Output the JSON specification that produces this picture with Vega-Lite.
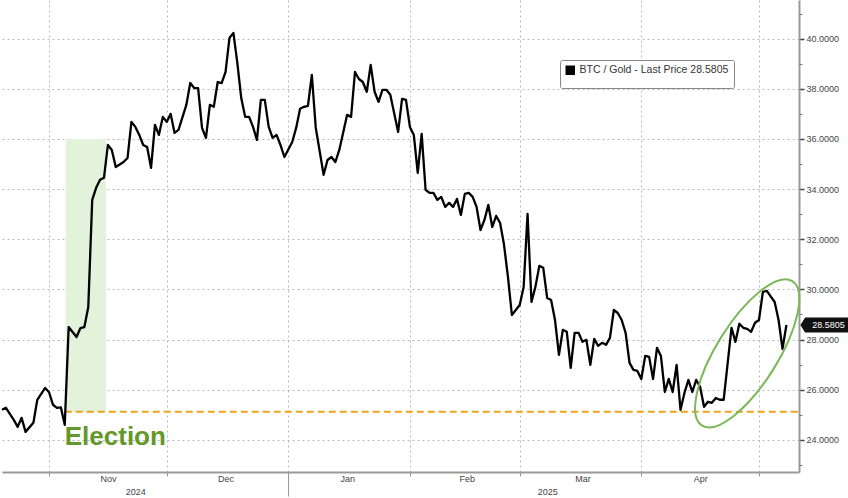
{
  "$schema": "https://vega.github.io/schema/vega-lite/v6.json",
  "width": 797,
  "height": 472,
  "padding": 0,
  "background": "white",
  "view": {"stroke": null},
  "config": {"font": "Liberation Sans"},
  "datasets": {
    "btc": [
      {"date": "2024-10-20T00:00:00", "value": 25.2},
      {"date": "2024-10-21T00:00:00", "value": 25.28},
      {"date": "2024-10-23T00:00:00", "value": 24.8},
      {"date": "2024-10-24T00:00:00", "value": 24.52},
      {"date": "2024-10-25T00:00:00", "value": 24.88},
      {"date": "2024-10-26T00:00:00", "value": 24.32},
      {"date": "2024-10-28T00:00:00", "value": 24.68},
      {"date": "2024-10-29T00:00:00", "value": 25.6},
      {"date": "2024-10-31T00:00:00", "value": 26.07},
      {"date": "2024-11-01T00:00:00", "value": 25.9},
      {"date": "2024-11-02T00:00:00", "value": 25.4},
      {"date": "2024-11-03T00:00:00", "value": 25.28},
      {"date": "2024-11-04T00:00:00", "value": 25.3},
      {"date": "2024-11-05T00:00:00", "value": 24.6},
      {"date": "2024-11-06T00:00:00", "value": 28.5},
      {"date": "2024-11-08T00:00:00", "value": 28.1},
      {"date": "2024-11-09T00:00:00", "value": 28.46},
      {"date": "2024-11-10T00:00:00", "value": 28.5},
      {"date": "2024-11-11T00:00:00", "value": 29.3},
      {"date": "2024-11-12T00:00:00", "value": 33.57},
      {"date": "2024-11-13T00:00:00", "value": 34.05},
      {"date": "2024-11-14T00:00:00", "value": 34.37},
      {"date": "2024-11-15T00:00:00", "value": 34.45},
      {"date": "2024-11-16T00:00:00", "value": 35.76},
      {"date": "2024-11-17T00:00:00", "value": 35.56},
      {"date": "2024-11-18T00:00:00", "value": 34.88},
      {"date": "2024-11-20T00:00:00", "value": 35.08},
      {"date": "2024-11-21T00:00:00", "value": 35.24},
      {"date": "2024-11-22T00:00:00", "value": 36.68},
      {"date": "2024-11-23T00:00:00", "value": 36.48},
      {"date": "2024-11-24T00:00:00", "value": 36.16},
      {"date": "2024-11-25T00:00:00", "value": 35.76},
      {"date": "2024-11-26T00:00:00", "value": 35.68},
      {"date": "2024-11-27T00:00:00", "value": 34.85},
      {"date": "2024-11-28T00:00:00", "value": 36.56},
      {"date": "2024-11-29T00:00:00", "value": 36.16},
      {"date": "2024-11-30T00:00:00", "value": 36.88},
      {"date": "2024-12-01T00:00:00", "value": 36.68},
      {"date": "2024-12-02T00:00:00", "value": 37.0},
      {"date": "2024-12-03T00:00:00", "value": 36.24},
      {"date": "2024-12-04T00:00:00", "value": 36.36},
      {"date": "2024-12-06T00:00:00", "value": 37.36},
      {"date": "2024-12-07T00:00:00", "value": 38.23},
      {"date": "2024-12-08T00:00:00", "value": 38.03},
      {"date": "2024-12-09T00:00:00", "value": 38.03},
      {"date": "2024-12-10T00:00:00", "value": 36.44},
      {"date": "2024-12-11T00:00:00", "value": 36.04},
      {"date": "2024-12-12T00:00:00", "value": 37.36},
      {"date": "2024-12-13T00:00:00", "value": 37.28},
      {"date": "2024-12-14T00:00:00", "value": 38.27},
      {"date": "2024-12-15T00:00:00", "value": 38.23},
      {"date": "2024-12-16T00:00:00", "value": 38.67},
      {"date": "2024-12-17T00:00:00", "value": 40.03},
      {"date": "2024-12-18T00:00:00", "value": 40.23},
      {"date": "2024-12-19T00:00:00", "value": 39.03},
      {"date": "2024-12-20T00:00:00", "value": 37.63},
      {"date": "2024-12-21T00:00:00", "value": 36.88},
      {"date": "2024-12-22T00:00:00", "value": 36.88},
      {"date": "2024-12-23T00:00:00", "value": 36.48},
      {"date": "2024-12-24T00:00:00", "value": 35.96},
      {"date": "2024-12-25T00:00:00", "value": 37.56},
      {"date": "2024-12-26T00:00:00", "value": 37.56},
      {"date": "2024-12-27T00:00:00", "value": 36.48},
      {"date": "2024-12-28T00:00:00", "value": 36.04},
      {"date": "2024-12-29T00:00:00", "value": 36.16},
      {"date": "2024-12-30T00:00:00", "value": 35.76},
      {"date": "2024-12-31T00:00:00", "value": 35.28},
      {"date": "2025-01-02T00:00:00", "value": 35.88},
      {"date": "2025-01-03T00:00:00", "value": 36.44},
      {"date": "2025-01-04T00:00:00", "value": 37.2},
      {"date": "2025-01-05T00:00:00", "value": 37.28},
      {"date": "2025-01-06T00:00:00", "value": 37.32},
      {"date": "2025-01-07T00:00:00", "value": 38.55},
      {"date": "2025-01-08T00:00:00", "value": 36.44},
      {"date": "2025-01-10T00:00:00", "value": 34.57},
      {"date": "2025-01-11T00:00:00", "value": 35.16},
      {"date": "2025-01-12T00:00:00", "value": 35.28},
      {"date": "2025-01-13T00:00:00", "value": 35.08},
      {"date": "2025-01-14T00:00:00", "value": 35.56},
      {"date": "2025-01-16T00:00:00", "value": 36.96},
      {"date": "2025-01-17T00:00:00", "value": 36.88},
      {"date": "2025-01-18T00:00:00", "value": 38.67},
      {"date": "2025-01-19T00:00:00", "value": 38.39},
      {"date": "2025-01-20T00:00:00", "value": 38.27},
      {"date": "2025-01-21T00:00:00", "value": 37.88},
      {"date": "2025-01-22T00:00:00", "value": 38.95},
      {"date": "2025-01-23T00:00:00", "value": 37.88},
      {"date": "2025-01-24T00:00:00", "value": 37.48},
      {"date": "2025-01-25T00:00:00", "value": 37.96},
      {"date": "2025-01-26T00:00:00", "value": 37.96},
      {"date": "2025-01-27T00:00:00", "value": 37.76},
      {"date": "2025-01-29T00:00:00", "value": 36.28},
      {"date": "2025-01-30T00:00:00", "value": 37.6},
      {"date": "2025-01-31T00:00:00", "value": 37.56},
      {"date": "2025-02-01T00:00:00", "value": 36.48},
      {"date": "2025-02-02T00:00:00", "value": 36.16},
      {"date": "2025-02-03T00:00:00", "value": 34.65},
      {"date": "2025-02-04T00:00:00", "value": 36.2},
      {"date": "2025-02-05T00:00:00", "value": 33.97},
      {"date": "2025-02-06T00:00:00", "value": 33.85},
      {"date": "2025-02-07T00:00:00", "value": 33.85},
      {"date": "2025-02-08T00:00:00", "value": 33.57},
      {"date": "2025-02-09T00:00:00", "value": 33.69},
      {"date": "2025-02-10T00:00:00", "value": 33.29},
      {"date": "2025-02-11T00:00:00", "value": 33.45},
      {"date": "2025-02-12T00:00:00", "value": 33.29},
      {"date": "2025-02-13T00:00:00", "value": 33.61},
      {"date": "2025-02-14T00:00:00", "value": 32.97},
      {"date": "2025-02-15T00:00:00", "value": 33.81},
      {"date": "2025-02-16T00:00:00", "value": 33.85},
      {"date": "2025-02-17T00:00:00", "value": 33.69},
      {"date": "2025-02-18T00:00:00", "value": 33.29},
      {"date": "2025-02-19T00:00:00", "value": 32.37},
      {"date": "2025-02-20T00:00:00", "value": 32.77},
      {"date": "2025-02-21T00:00:00", "value": 33.37},
      {"date": "2025-02-22T00:00:00", "value": 32.49},
      {"date": "2025-02-23T00:00:00", "value": 32.93},
      {"date": "2025-02-24T00:00:00", "value": 32.65},
      {"date": "2025-02-25T00:00:00", "value": 31.78},
      {"date": "2025-02-26T00:00:00", "value": 30.5},
      {"date": "2025-02-27T00:00:00", "value": 28.98},
      {"date": "2025-02-28T00:00:00", "value": 29.18},
      {"date": "2025-03-01T00:00:00", "value": 29.38},
      {"date": "2025-03-02T00:00:00", "value": 30.1},
      {"date": "2025-03-03T00:00:00", "value": 33.01},
      {"date": "2025-03-04T00:00:00", "value": 29.5},
      {"date": "2025-03-05T00:00:00", "value": 30.1},
      {"date": "2025-03-06T00:00:00", "value": 30.94},
      {"date": "2025-03-07T00:00:00", "value": 30.86},
      {"date": "2025-03-08T00:00:00", "value": 29.66},
      {"date": "2025-03-09T00:00:00", "value": 29.58},
      {"date": "2025-03-10T00:00:00", "value": 28.78},
      {"date": "2025-03-11T00:00:00", "value": 27.39},
      {"date": "2025-03-12T00:00:00", "value": 28.39},
      {"date": "2025-03-13T00:00:00", "value": 28.31},
      {"date": "2025-03-14T00:00:00", "value": 26.87},
      {"date": "2025-03-15T00:00:00", "value": 28.27},
      {"date": "2025-03-16T00:00:00", "value": 28.27},
      {"date": "2025-03-17T00:00:00", "value": 27.91},
      {"date": "2025-03-18T00:00:00", "value": 27.99},
      {"date": "2025-03-19T00:00:00", "value": 26.99},
      {"date": "2025-03-20T00:00:00", "value": 28.03},
      {"date": "2025-03-21T00:00:00", "value": 27.75},
      {"date": "2025-03-22T00:00:00", "value": 27.87},
      {"date": "2025-03-23T00:00:00", "value": 27.79},
      {"date": "2025-03-24T00:00:00", "value": 28.07},
      {"date": "2025-03-25T00:00:00", "value": 29.18},
      {"date": "2025-03-26T00:00:00", "value": 29.06},
      {"date": "2025-03-27T00:00:00", "value": 28.78},
      {"date": "2025-03-28T00:00:00", "value": 28.27},
      {"date": "2025-03-29T00:00:00", "value": 27.07},
      {"date": "2025-03-30T00:00:00", "value": 26.79},
      {"date": "2025-03-31T00:00:00", "value": 26.75},
      {"date": "2025-04-01T00:00:00", "value": 26.43},
      {"date": "2025-04-02T00:00:00", "value": 27.35},
      {"date": "2025-04-03T00:00:00", "value": 27.31},
      {"date": "2025-04-04T00:00:00", "value": 26.43},
      {"date": "2025-04-05T00:00:00", "value": 27.67},
      {"date": "2025-04-06T00:00:00", "value": 27.35},
      {"date": "2025-04-07T00:00:00", "value": 25.91},
      {"date": "2025-04-08T00:00:00", "value": 26.43},
      {"date": "2025-04-09T00:00:00", "value": 25.91},
      {"date": "2025-04-10T00:00:00", "value": 26.99},
      {"date": "2025-04-11T00:00:00", "value": 25.2},
      {"date": "2025-04-12T00:00:00", "value": 25.87},
      {"date": "2025-04-13T00:00:00", "value": 26.39},
      {"date": "2025-04-14T00:00:00", "value": 25.91},
      {"date": "2025-04-15T00:00:00", "value": 26.39},
      {"date": "2025-04-16T00:00:00", "value": 26.11},
      {"date": "2025-04-17T00:00:00", "value": 25.32},
      {"date": "2025-04-18T00:00:00", "value": 25.52},
      {"date": "2025-04-19T00:00:00", "value": 25.48},
      {"date": "2025-04-20T00:00:00", "value": 25.67},
      {"date": "2025-04-21T00:00:00", "value": 25.6},
      {"date": "2025-04-22T00:00:00", "value": 25.6},
      {"date": "2025-04-24T00:00:00", "value": 28.47},
      {"date": "2025-04-25T00:00:00", "value": 27.91},
      {"date": "2025-04-26T00:00:00", "value": 28.63},
      {"date": "2025-04-27T00:00:00", "value": 28.47},
      {"date": "2025-04-28T00:00:00", "value": 28.43},
      {"date": "2025-04-29T00:00:00", "value": 28.31},
      {"date": "2025-04-30T00:00:00", "value": 28.67},
      {"date": "2025-05-01T00:00:00", "value": 28.78},
      {"date": "2025-05-02T00:00:00", "value": 29.9},
      {"date": "2025-05-03T00:00:00", "value": 29.94},
      {"date": "2025-05-05T00:00:00", "value": 29.5},
      {"date": "2025-05-06T00:00:00", "value": 28.78},
      {"date": "2025-05-07T00:00:00", "value": 27.63},
      {"date": "2025-05-08T00:00:00", "value": 28.5805}
    ],
    "shade": [{"start": "2024-11-05T06:00:00", "end": "2024-11-15T12:00:00", "low": 25.1, "high": 36.0}],
    "refline": [{"start": "2024-11-05T00:00:00", "end": "2025-05-11T05:00:00", "value": 25.12}],
    "election": [{"date": "2024-11-05T00:00:00", "value": 24.12, "label": "Election"}],
    "circle": [{"date": "2025-04-28T00:00:00", "value": 27.45}],
    "last": [{"date": "2025-05-08T00:00:00", "value": 28.5805, "label": "28.5805"}]
  },
  "resolve": {"axis": {"x": "independent", "y": "independent"}},
  "layer": [
    {
      "data": {"name": "shade"},
      "mark": {"type": "rect", "color": "#e3f2da"},
      "encoding": {
        "x": {
          "field": "start", "type": "temporal",
          "scale": {"domain": [{"year": 2024, "month": 10, "date": 20}, {"year": 2025, "month": 5, "date": 11, "hours": 5}], "nice": false},
          "axis": {
            "orient": "bottom", "title": null, "labels": false,
            "values": [{"year": 2024, "month": 11, "date": 1}, {"year": 2024, "month": 12, "date": 1}, {"year": 2025, "month": 1, "date": 1}, {"year": 2025, "month": 2, "date": 1}, {"year": 2025, "month": 3, "date": 1}, {"year": 2025, "month": 4, "date": 1}, {"year": 2025, "month": 5, "date": 1}],
            "grid": true, "gridColor": "#b8b8b8", "gridDash": [2, 3], "gridWidth": 1,
            "ticks": true, "tickColor": "#999",
            "tickSize": {"condition": {"test": "month(datum.value) == 0", "value": 24}, "value": 4},
            "domain": true, "domainColor": "#999", "domainWidth": 2
          }
        },
        "x2": {"field": "end"},
        "y": {
          "field": "low", "type": "quantitative",
          "scale": {"domain": [22.72, 41.54], "nice": false, "zero": false},
          "axis": {
            "title": null, "orient": "right",
            "values": [24, 26, 28, 30, 32, 34, 36, 38, 40],
            "format": ".4f",
            "grid": true, "gridColor": "#b8b8b8", "gridDash": [2, 3], "gridWidth": 1,
            "tickColor": "#444", "tickSize": 5, "tickWidth": 1.5,
            "labelFontSize": 9, "labelColor": "#444", "labelPadding": 2,
            "domain": true, "domainColor": "#999", "domainWidth": 2
          }
        },
        "y2": {"field": "high"}
      }
    },
    {
      "data": {"name": "refline"},
      "mark": {"type": "rule", "color": "#f0a31c", "strokeWidth": 2, "strokeDash": [7, 4]},
      "encoding": {
        "x": {
          "field": "start", "type": "temporal",
          "scale": {"domain": [{"year": 2024, "month": 10, "date": 20}, {"year": 2025, "month": 5, "date": 11, "hours": 5}], "nice": false},
          "axis": {
            "orient": "bottom", "title": null, "grid": false, "ticks": false, "tickSize": 0, "domain": false,
            "values": [{"year": 2024, "month": 11, "date": 16}, {"year": 2024, "month": 12, "date": 16}, {"year": 2025, "month": 1, "date": 16}, {"year": 2025, "month": 2, "date": 15, "hours": 12}, {"year": 2025, "month": 3, "date": 17}, {"year": 2025, "month": 4, "date": 16}],
            "format": "%b", "labelFontSize": 9, "labelColor": "#444", "labelPadding": 2
          }
        },
        "x2": {"field": "end"},
        "y": {
          "field": "value", "type": "quantitative",
          "scale": {"domain": [22.72, 41.54], "nice": false, "zero": false},
          "axis": {
            "title": null, "orient": "right", "labels": false, "grid": false, "domain": false,
            "values": [23, 25, 27, 29, 31, 33, 35, 37, 39, 41],
            "tickColor": "#777", "tickSize": 3
          }
        }
      }
    },
    {
      "data": {"name": "btc"},
      "mark": {"type": "line", "strokeWidth": 2.3, "strokeJoin": "round"},
      "encoding": {
        "x": {
          "field": "date", "type": "temporal",
          "scale": {"domain": [{"year": 2024, "month": 10, "date": 20}, {"year": 2025, "month": 5, "date": 11, "hours": 5}], "nice": false},
          "axis": {
            "orient": "bottom", "title": null, "grid": false, "ticks": false, "tickSize": 0, "domain": false,
            "values": [{"year": 2024, "month": 11, "date": 23}, {"year": 2025, "month": 3, "date": 8}],
            "format": "%Y", "labelFontSize": 9, "labelColor": "#444", "labelPadding": 15
          }
        },
        "y": {
          "field": "value", "type": "quantitative",
          "scale": {"domain": [22.72, 41.54], "nice": false, "zero": false},
          "axis": null
        },
        "color": {
          "datum": "BTC / Gold - Last Price 28.5805",
          "scale": {"range": ["#000000"]},
          "legend": {
            "title": null, "orient": "none", "legendX": 558, "legendY": 60,
            "symbolType": "square", "symbolSize": 20, "symbolStrokeWidth": 5,
            "labelFontSize": 10.5, "labelColor": "#333",
            "strokeColor": "#888", "fillColor": "white", "padding": 5, "cornerRadius": 2
          }
        }
      }
    },
    {
      "data": {"name": "election"},
      "mark": {"type": "text", "align": "left", "baseline": "middle", "fontSize": 26, "fontWeight": "bold", "color": "#64982a", "font": "Liberation Sans"},
      "encoding": {
        "x": {"field": "date", "type": "temporal", "scale": {"domain": [{"year": 2024, "month": 10, "date": 20}, {"year": 2025, "month": 5, "date": 11, "hours": 5}], "nice": false}, "axis": null},
        "y": {"field": "value", "type": "quantitative", "scale": {"domain": [22.72, 41.54], "nice": false, "zero": false}, "axis": null},
        "text": {"field": "label"}
      }
    },
    {
      "data": {"name": "circle"},
      "mark": {
        "type": "point", "filled": false, "stroke": "#7cb85a", "strokeWidth": 2, "opacity": 1,
        "shape": "M 1 0 C 1 0.199 0.552 0.36 0 0.36 C -0.552 0.36 -1 0.199 -1 0 C -1 -0.199 -0.552 -0.36 0 -0.36 C 0.552 -0.36 1 -0.199 1 0 Z",
        "size": 29000, "angle": 302
      },
      "encoding": {
        "x": {"field": "date", "type": "temporal", "scale": {"domain": [{"year": 2024, "month": 10, "date": 20}, {"year": 2025, "month": 5, "date": 11, "hours": 5}], "nice": false}, "axis": null},
        "y": {"field": "value", "type": "quantitative", "scale": {"domain": [22.72, 41.54], "nice": false, "zero": false}, "axis": null}
      }
    },
    {
      "data": {"name": "last"},
      "mark": {
        "type": "point", "filled": true, "color": "#111", "opacity": 1, "clip": false,
        "shape": "M -1 0 L -0.82 -0.29 L 1 -0.29 L 1 0.29 L -0.82 0.29 Z",
        "size": 2704, "xOffset": 40
      },
      "encoding": {
        "x": {"field": "date", "type": "temporal", "scale": {"domain": [{"year": 2024, "month": 10, "date": 20}, {"year": 2025, "month": 5, "date": 11, "hours": 5}], "nice": false}, "axis": null},
        "y": {"field": "value", "type": "quantitative", "scale": {"domain": [22.72, 41.54], "nice": false, "zero": false}, "axis": null}
      }
    },
    {
      "data": {"name": "last"},
      "mark": {"type": "text", "align": "center", "baseline": "middle", "fontSize": 9, "color": "white", "dx": 42, "clip": false},
      "encoding": {
        "x": {"field": "date", "type": "temporal", "scale": {"domain": [{"year": 2024, "month": 10, "date": 20}, {"year": 2025, "month": 5, "date": 11, "hours": 5}], "nice": false}, "axis": null},
        "y": {"field": "value", "type": "quantitative", "scale": {"domain": [22.72, 41.54], "nice": false, "zero": false}, "axis": null},
        "text": {"field": "label"}
      }
    }
  ]
}
